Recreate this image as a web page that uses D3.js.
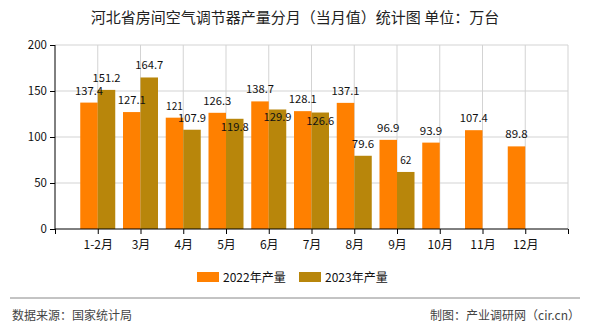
<!DOCTYPE html>
<html><head><meta charset="utf-8">
<script src="https://cdn.jsdelivr.net/npm/d3@7"></script>
<style>body{margin:0;background:#fff}svg{display:block}text{font-family:"Noto Sans CJK SC","DejaVu Sans",sans-serif}</style>
</head><body>
<svg id="c" width="590" height="330"></svg>
<script>
const categories = ["1-2月","3月","4月","5月","6月","7月","8月","9月","10月","11月","12月"];
const values2022 = [137.4,127.1,121,126.3,138.7,128.1,137.1,96.9,93.9,107.4,89.8];
const values2023 = [151.2,164.7,107.9,119.8,129.9,126.6,79.6,62,null,null,null];
const seriesNames = ["2022年产量","2023年产量"];
const colors = ["#FF8000","#B8860B"];
const yTicks = [0,50,100,150,200];

const svg = d3.select("#c");
const L=55,R=568,T=45,B=229;
const x = d3.scaleLinear().domain([0,categories.length+1]).range([L,R]);
const y = d3.scaleLinear().domain([0,200]).range([B,T]);
const bw = 17.5;

svg.append("text").attr("x",295).attr("y",23).attr("text-anchor","middle")
  .attr("font-size",15).attr("fill","#222").text("河北省房间空气调节器产量分月（当月值）统计图 单位：万台");

const g = svg.append("g");
g.selectAll(".hg").data(yTicks.slice(1)).join("line")
  .attr("x1",L).attr("x2",R).attr("y1",d=>y(d)).attr("y2",d=>y(d))
  .attr("stroke","#d3d3d3");
const vx = d3.range(1,categories.length+2);
g.selectAll(".vg").data(vx).join("line")
  .attr("x1",d=>x(d)).attr("x2",d=>x(d)).attr("y1",T).attr("y2",B)
  .attr("stroke","#d3d3d3");

const sets=[values2022,values2023];
const labelW = s => String(s).length*5.6;
// label positions with simple collision avoidance
const labels=[];
sets.forEach((vals,s)=>{
  vals.forEach((v,i)=>{
    if(v==null) return;
    const cx = x(i+1)+(s===0?-bw/2:bw/2);
    let by = y(v)-8;
    if(s===1){
      const o = labels.find(l=>l.i===i);
      if(o){
        const w1=labelW(o.v)/2, w2=labelW(v)/2;
        const xOver = Math.abs(o.cx-cx) < w1+w2;
        const yOver = Math.abs(o.by-by) < 11;
        if(xOver&&yOver) by = y(v)+12;
      }
    }
    labels.push({v,i,s,cx,by});
  });
});
sets.forEach((vals,s)=>{
  const data = vals.map((v,i)=>({v,i})).filter(d=>d.v!=null);
  g.selectAll(".b"+s).data(data).join("rect")
    .attr("x",d=>x(d.i+1)+(s===0?-bw:0)).attr("width",bw)
    .attr("y",d=>y(d.v)).attr("height",d=>B-y(d.v)).attr("fill",colors[s]);
});
g.selectAll(".lbl").data(labels).join("text")
  .attr("x",d=>d.cx).attr("y",d=>d.by)
  .attr("text-anchor","middle").attr("font-size",11).attr("fill","#111")
  .attr("font-family","'DejaVu Sans Mono','Liberation Mono',monospace")
  .attr("textLength",d=>labelW(d.v)).attr("lengthAdjust","spacingAndGlyphs")
  .text(d=>d.v);

const ya = svg.append("g").attr("transform",`translate(${L},0)`)
  .call(d3.axisLeft(y).tickValues(yTicks).tickSize(5).tickPadding(3));
ya.select(".domain").attr("d",`M0,${T}V${B}`).attr("stroke","#000");
ya.selectAll("text").attr("font-size",11.5).attr("fill","#111").attr("font-family","'Liberation Sans',sans-serif");
const xa = svg.append("g").attr("transform",`translate(0,${B})`)
  .call(d3.axisBottom(x).tickValues(d3.range(0,categories.length+2)).tickSize(5).tickPadding(6)
    .tickFormat(d=>categories[d-1]||""));
xa.select(".domain").attr("d",`M${L},0H${R}`).attr("stroke","#000");
xa.selectAll("text").attr("font-size",12).attr("fill","#111");

const lg = svg.append("g");
const lx=[197,299];
seriesNames.forEach((n,i)=>{
  lg.append("rect").attr("x",lx[i]).attr("y",272).attr("width",22).attr("height",10).attr("fill",colors[i]);
  lg.append("text").attr("x",lx[i]+26).attr("y",281.5).attr("font-size",12).attr("fill","#111").text(n);
});

svg.append("line").attr("x1",10).attr("x2",580).attr("y1",298).attr("y2",298).attr("stroke","#888").attr("stroke-width",1);
svg.append("text").attr("x",12).attr("y",320).attr("font-size",12).attr("fill","#444").text("数据来源：国家统计局");
svg.append("text").attr("x",580).attr("y",320).attr("text-anchor","end").attr("font-size",12).attr("fill","#444").text("制图：产业调研网（cir.cn）");
</script>
</body></html>
